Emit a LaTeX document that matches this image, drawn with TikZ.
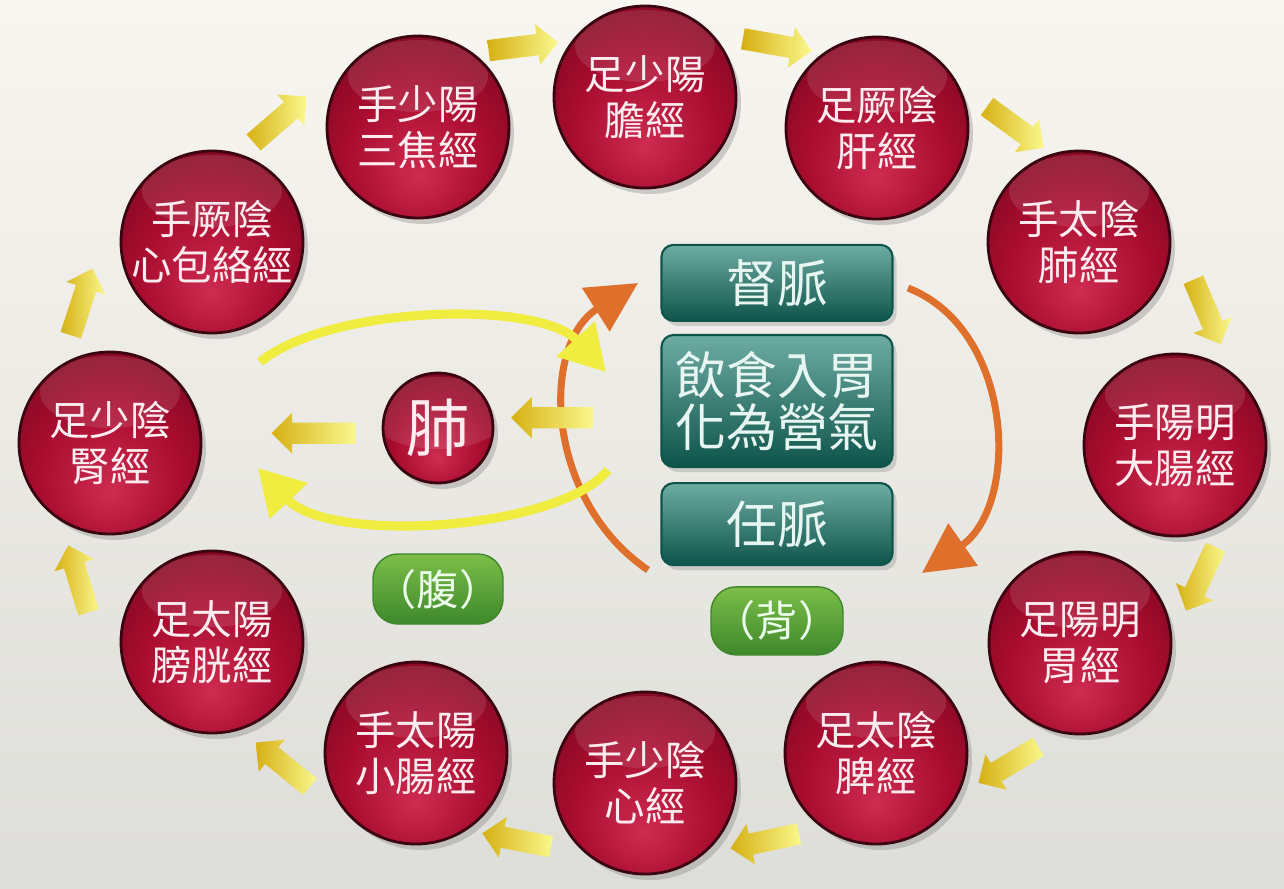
\documentclass[tikz,border=0pt]{standalone}
\usepackage{fontspec}
\setmainfont{Noto Sans CJK TC}
\usetikzlibrary{arrows.meta, calc, positioning, shadows, shapes.arrows}

\definecolor{bgtop}{RGB}{248,246,240}
\definecolor{bgbot}{RGB}{221,221,217}
\definecolor{rim}{RGB}{58,4,16}
\definecolor{balldk}{RGB}{112,6,30}
\definecolor{ballmid}{RGB}{168,12,46}
\definecolor{ballhi}{RGB}{206,44,80}
\definecolor{txtpink}{RGB}{255,236,240}
\definecolor{tealhi}{RGB}{110,172,162}
\definecolor{tealmid}{RGB}{28,114,102}
\definecolor{tealdk}{RGB}{14,84,74}
\definecolor{tealtxt}{RGB}{232,246,242}
\definecolor{grnhi}{RGB}{124,190,72}
\definecolor{grndk}{RGB}{62,136,44}
\definecolor{yel}{RGB}{240,236,64}
\definecolor{yelhi}{RGB}{250,248,140}
\definecolor{yeldk}{RGB}{214,176,20}
\definecolor{org}{RGB}{222,112,44}

\pgfdeclareradialshading{redball}{\pgfpoint{0bp}{-14bp}}{color(0bp)=(ballhi); color(20bp)=(ballmid); color(40bp)=(balldk); color(56bp)=(rim)}

\tikzset{
  mer/.style={circle, minimum size=1.82cm, inner sep=0pt, shade, shading=redball,
    draw=rim, line width=.8pt, align=center, text=txtpink,
    font=\fontsize{11.5}{13}\selectfont,
    drop shadow={opacity=.35, shadow xshift=.5mm, shadow yshift=-.6mm},
    path picture={\fill[white, opacity=.11] ([yshift=-.4cm]path picture bounding box.north)
      ellipse [x radius=.7cm, y radius=.36cm];}},
  duct/.style={rounded corners=1.2mm, minimum width=2.31cm, inner sep=0pt,
    top color=tealhi, middle color=tealmid, bottom color=tealdk,
    draw=tealdk, line width=.6pt, text=tealtxt, align=center,
    font=\fontsize{14.5}{15}\selectfont,
    drop shadow={opacity=.3, shadow xshift=.4mm, shadow yshift=-.5mm}},
  pill/.style={rounded corners=2.5mm, minimum width=1.3cm, minimum height=.7cm,
    inner sep=0pt, top color=grnhi, bottom color=grndk, draw=grndk,
    text=white!92!green, font=\fontsize{12}{13}\selectfont},
  yarr/.style={single arrow, single arrow head extend=.1cm, minimum height=.7cm,
    inner xsep=0pt, inner ysep=.1cm, left color=yeldk, right color=yelhi},
  ycurve/.style={draw=yel, line width=2.6pt, -{Triangle[length=4.5mm, width=5mm]}},
  ocurve/.style={draw=org, line width=2pt, -{Triangle[length=5mm, width=5mm]}}
}

\begin{document}
\begin{tikzpicture}[x=0.1mm, y=-0.1mm]
  % background
  \shade[top color=bgtop, bottom color=bgbot] (0,0) rectangle (1284,888);
  \useasboundingbox (0,0) rectangle (1284,888);

  % curved arrows round the centre
  \coordinate (yt0) at (260,362); \coordinate (yt1) at (606,372);
  \coordinate (yb0) at (608,470); \coordinate (yb1) at (258,468);
  \coordinate (ol0) at (648,570); \coordinate (ol1) at (638,283);
  \coordinate (or0) at (908,288); \coordinate (or1) at (922,573);
  \draw[ocurve] (ol0) .. controls (545,500) and (540,345) .. (ol1);
  \draw[ocurve] (or0) .. controls (1015,330) and (1020,505) .. (or1);
  \draw[ycurve] (yt0) .. controls (330,305) and (540,300) .. (yt1);
  \draw[ycurve] (yb0) .. controls (560,530) and (330,545) .. (yb1);

  % meridians as nodes
  \foreach \x/\y/\n/\t in {645/97/gb/{足少陽\\膽經}, 877/128/lr/{足厥陰\\肝經},
      1079/242/lu/{手太陰\\肺經}, 1175/445/li/{手陽明\\大腸經},
      1080/643/st/{足陽明\\胃經}, 876/753/sp/{足太陰\\脾經},
      645/783/ht/{手少陰\\心經}, 416/753/si/{手太陽\\小腸經},
      212/642/bl/{足太陽\\膀胱經}, 110/443/ki/{足少陰\\腎經},
      212/242/pc/{手厥陰\\心包絡經}, 418/127/sj/{手少陽\\三焦經}}
    \node[mer] (\n) at (\x,\y) {\t};

  % arrows round the ring
  \foreach \x/\y/\a [count=\i] in {518/47/7, 772/44/-10, 1011/124/-36, 1205/307/-67,
      1203/574/-115, 1013/762/-149, 770/840/-168, 522/841/169, 287/768/141,
      80/584/107, 80/307/72, 276/123/41}
    \node[yarr, rotate=\a] (r\i) at (\x,\y) {};

  % centre
  \node[mer, minimum size=1.1cm, font=\fontsize{18}{18}\selectfont] (lung) at (438,428) {肺};
  \node[duct, minimum height=1.32cm] (food) at (777,401) {飲食入胃\\化為營氣};
  \node[duct, minimum height=.76cm, above=.12cm of food] (du) {督脈};
  \node[duct, minimum height=.82cm, below=.14cm of food] (ren) {任脈};
  \node[pill] (belly) at (438,589) {（腹）};
  \node[pill, minimum width=1.32cm, minimum height=.68cm, below=.2cm of ren] (back) {（背）};
  \node[yarr, minimum height=.82cm, rotate=180] (f2l) at ($(lung.east)!.38!(food.west)$) {};
  \node[yarr, minimum height=.84cm, rotate=180] (l2k) at ($(lung.west)!.35!(ki.east)$) {};
\end{tikzpicture}
\end{document}
